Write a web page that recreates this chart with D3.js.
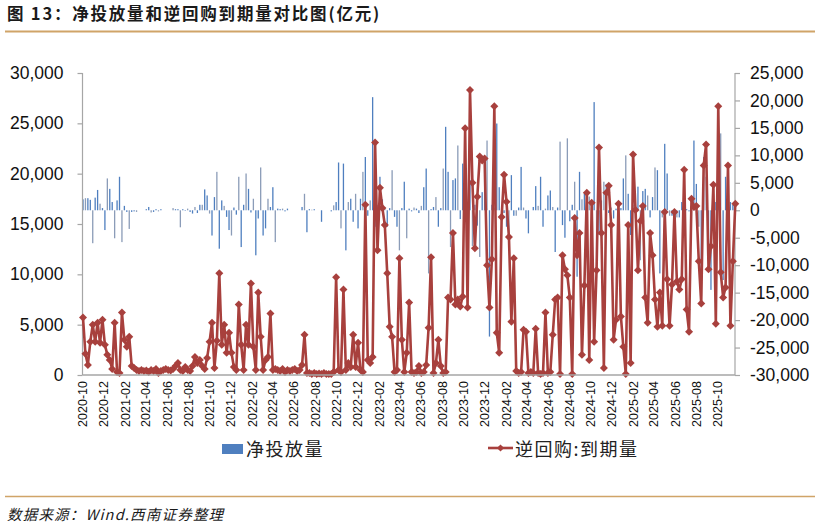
<!DOCTYPE html>
<html><head><meta charset="utf-8">
<script src="https://cdn.jsdelivr.net/npm/d3@7/dist/d3.min.js"></script>
<style>body{margin:0;background:#fff}svg{display:block}</style>
</head><body>
<svg id="chart" width="821" height="528"></svg>
<script>
// ---------- DATA ----------
const firstWeek = "2020-10-02"; // weekly observations
const tickLabels = ["2020-10","2020-12","2021-02","2021-04","2021-06","2021-08","2021-10","2021-12",
  "2022-02","2022-04","2022-06","2022-08","2022-10","2022-12","2023-02","2023-04","2023-06","2023-08",
  "2023-10","2023-12","2024-02","2024-04","2024-06","2024-08","2024-10","2024-12","2025-02","2025-04",
  "2025-06","2025-08","2025-10"];
const leftTicks = [0,5000,10000,15000,20000,25000,30000];
const rightTicks = [-30000,-25000,-20000,-15000,-10000,-5000,0,5000,10000,15000,20000,25000];
const seriesNames = ["净投放量","逆回购:到期量"];

// 净投放量 (right axis)
const netInjection = [
 2000,2200,2200,1900,-6000,2300,3700,1200,400,-3600,5800,3900,1500,-5100,1800,6100,-5800,800,-300,-3400,-300,-200,-300,
 0,0,0,200,600,-400,-300,200,-200,200,0,0,0,0,
 400,200,200,-3100,200,-100,300,-300,-600,600,-500,1000,1000,3800,2700,-600,-4600,2400,7000,-7000,1800,800,-1200,-3600,-4600,500,-800,6100,-6700,
 1000,6700,3900,-400,2100,-8200,-1500,7800,-4600,-3300,2100,600,4200,-5800,
 300,200,300,-200,300,0,0,0,0,0,600,3000,-4000,200,100,200,0,0,-2100,0,
 0,0,-200,900,1500,8700,-3300,8500,-7300,1500,2100,-2100,3000,-3300,2100,7000,9700,-1000,1800,20600,-3000,1000,6100,2000,500,-3000,400,7300,-1200,-3000,-7300,
 400,5200,-5100,300,-200,500,300,-500,800,
 4200,7600,-11500,200,600,2400,-3000,400,7600,15200,7000,-6700,5500,5800,11800,-1600,8500,14000,-2800,5500,
 -6500,1000,-2800,-8500,3300,7300,12700,-23000,1000,500,15800,4200,-1000,-500,-3000,-4800,
 6400,-1000,-1000,500,7900,500,-1500,-4200,0,600,4400,800,6100,-3000,300,2700,3600,600,-7600,500,12500,-2700,
 -5000,13100,-2000,1000,5200,-12100,7000,2000,3000,-2000,2500,700,19700,-11500,-4500,1800,5200,4800,-500,500,
 -1500,300,-300,400,5800,10000,3000,-4500,1000,-1500,4300,-9100,3500,3900,2700,-1300,2400,7800,7300,-11500,
 -1300,12100,6700,-1000,-1000,-500,-1300,-1300,1500,0,200,-200,300,12700,4800,-3000,-11000,9700,6100,-7900,
 -14500,-3000,1500,9400,14000,-12700,6100,-2000,1500,1000,500
];

// 逆回购:到期量 (left axis)
const repoMaturity = [
 5700,2100,1000,3300,5000,3300,5200,3200,5500,3000,2000,1500,600,5200,300,200,6200,3500,2800,3800,900,700,
 500,400,500,400,450,300,500,400,600,200,400,500,600,500,450,
 600,900,1200,500,400,800,500,400,900,1800,1200,1500,900,600,1700,3300,5200,700,3400,10100,3000,5000,2200,4200,2200,800,500,
 7000,3000,500,5000,3000,9100,2800,500,8200,3800,500,1500,1800,6100,500,600,
 500,400,600,300,500,400,500,600,400,500,1000,4000,200,
 200,100,200,100,150,100,200,100,100,100,300,
 9700,500,300,8500,500,1200,800,4000,800,3200,500,300,
 16900,1500,1200,1800,23100,12400,18600,16600,14900,10100,4800,3800,300,500,11600,
 3500,300,2200,7200,300,200,300,900,200,300,
 1000,4700,11700,200,1200,3500,900,200,300,7700,7500,14100,7000,7500,6800,7800,24500,6700,
 28300,19100,12600,17700,21700,21300,21500,10900,6700,11500,26700,4200,2200,15700,19900,17200,13700,5300,11600,
 400,200,300,4500,4300,200,300,200,4600,200,100,200,6200,200,300,4000,7500,7700,100,
 11900,10500,9900,7700,100,
 15600,11900,14100,2000,8900,18100,1500,17100,3300,10400,22600,14100,700,18100,18800,14900,3500,5500,17000,5800,
 2800,100,14900,1200,21900,16400,10400,15300,16800,7700,5200,14100,11900,7500,4800,8200,4900,16200,9500,4900,
 9000,16200,9300,8500,9500,20400,6500,4300,17500,16700,16800,11300,7100,20800,22900,10500,12800,18900,5100,26700,
 10200,7700,8700,20800,4900,11300,17000
];

// ---------- DRAW ----------
const svg = d3.select("#chart");
const plot = {left: 82.5, right: 735, top: 73, bottom: 375};
const lineColor = "#a8403d";
const rule = "#d0a468";
const fontNum = "'Liberation Sans', Arial, sans-serif";
const fontCJK = "'Noto Sans CJK SC', 'Noto Sans', sans-serif";

const parseDay = d3.timeParse("%Y-%m-%d");
const parseMonth = d3.timeParse("%Y-%m");
const start = parseDay(firstWeek);
const dates = repoMaturity.map((_, i) => d3.timeDay.offset(start, 7 * i));

const x = d3.scaleTime().domain([dates[0], dates[dates.length - 1]]).range([83, 735.3]);
const yL = d3.scaleLinear().domain([0, 30000]).range([plot.bottom, plot.top]);
const yR = d3.scaleLinear().domain([-30000, 25000]).range([plot.bottom, plot.top]);

// Title
svg.append("text").attr("x", 7).attr("y", 20)
  .attr("font-family", fontCJK).attr("font-weight", "bold").attr("font-size", 16.5)
  .attr("letter-spacing", 1.8).attr("fill", "#1a1a1a")
  .text("图 13：净投放量和逆回购到期量对比图(亿元)");
svg.append("line").attr("x1", 5).attr("x2", 815).attr("y1", 31.5).attr("y2", 31.5)
  .attr("stroke", rule).attr("stroke-width", 2);
svg.append("line").attr("x1", 5).attr("x2", 815).attr("y1", 496.5).attr("y2", 496.5)
  .attr("stroke", rule).attr("stroke-width", 1.5);
svg.append("text").attr("x", 7).attr("y", 520)
  .attr("font-family", fontCJK).attr("font-style", "italic").attr("font-size", 14.5)
  .attr("letter-spacing", 1.2).attr("fill", "#1a1a1a")
  .text("数据来源：Wind.西南证券整理");

// Bars (right axis)
const barW = 1.3;
svg.append("g").selectAll("rect").data(netInjection).join("rect")
  .attr("x", (d, i) => x(dates[i]) - barW / 2)
  .attr("y", d => Math.min(yR(d), yR(0)))
  .attr("width", barW)
  .attr("height", d => Math.abs(yR(d) - yR(0)))
  .attr("fill", (d, i) => i % 3 === 1 ? "#8b9cb8" : "#4f7fbf");

// Axes lines
const axisColor = "#a6a6a6";
const gAx = svg.append("g").attr("stroke", axisColor).attr("stroke-width", 1.2);
gAx.append("line").attr("x1", plot.left).attr("x2", plot.left).attr("y1", plot.top).attr("y2", plot.bottom);
gAx.append("line").attr("x1", plot.right).attr("x2", plot.right).attr("y1", plot.top).attr("y2", plot.bottom);

// Left axis
const gl = svg.append("g").attr("transform", `translate(${plot.left},0)`)
  .call(d3.axisLeft(yL).tickValues(leftTicks).tickFormat(d3.format(",")).tickSize(5).tickPadding(14));
gl.select(".domain").remove();
gl.selectAll(".tick line").attr("stroke", axisColor).attr("stroke-width", 1.2);
gl.selectAll(".tick text").attr("font-family", fontNum).attr("font-size", 17.5).attr("fill", "#111");

// Right axis
const gr = svg.append("g").attr("transform", `translate(${plot.right},0)`)
  .call(d3.axisRight(yR).tickValues(rightTicks).tickFormat(d3.format(",")).tickSize(5).tickPadding(10));
gr.select(".domain").remove();
gr.selectAll(".tick line").attr("stroke", axisColor).attr("stroke-width", 1.2);
gr.selectAll(".tick text").attr("font-family", fontNum).attr("font-size", 17.5).attr("fill", "#111")
  .text(d => d < 0 ? "-" + d3.format(",")(-d) : d3.format(",")(d));

// Line (left axis)
const line = d3.line().x((d, i) => x(dates[i])).y(d => yL(d));
svg.append("path").datum(repoMaturity).attr("d", line)
  .attr("fill", "none").attr("stroke", lineColor).attr("stroke-width", 2.6).attr("stroke-linejoin", "round");
const diamond = d3.symbol().type(d3.symbolSquare).size(32);
svg.append("g").selectAll("path").data(repoMaturity).join("path")
  .attr("d", diamond)
  .attr("transform", (d, i) => `translate(${x(dates[i])},${yL(d)}) rotate(45)`)
  .attr("fill", lineColor);

// Bottom axis line
svg.append("line").attr("x1", plot.left).attr("x2", plot.right).attr("y1", plot.bottom).attr("y2", plot.bottom)
  .attr("stroke", axisColor).attr("stroke-width", 1.5);

// X tick labels
svg.append("g").selectAll("text").data(tickLabels).join("text")
  .attr("transform", d => `translate(${x(parseMonth(d))},381) rotate(-90)`)
  .attr("text-anchor", "end").attr("dy", "0.35em")
  .attr("font-family", fontNum).attr("font-size", 12.5).attr("fill", "#111")
  .text(d => d);

// Legend
const lg = svg.append("g");
lg.append("rect").attr("x", 222).attr("y", 444).attr("width", 21).attr("height", 10).attr("fill", "#4f7fbf");
lg.append("text").attr("x", 246).attr("y", 456).attr("font-family", fontCJK).attr("font-size", 18)
  .attr("letter-spacing", 1.5).attr("fill", "#222").text(seriesNames[0]);
lg.append("line").attr("x1", 488).attr("x2", 513).attr("y1", 448).attr("y2", 448)
  .attr("stroke", lineColor).attr("stroke-width", 2.6);
lg.append("path").attr("d", d3.symbol().type(d3.symbolSquare).size(26)).attr("transform", "translate(500.5,448) rotate(45)").attr("fill", lineColor);
lg.append("text").attr("x", 515).attr("y", 456).attr("font-family", fontCJK).attr("font-size", 18)
  .attr("letter-spacing", 1.5).attr("fill", "#222").text(seriesNames[1]);
</script>
</body></html>
